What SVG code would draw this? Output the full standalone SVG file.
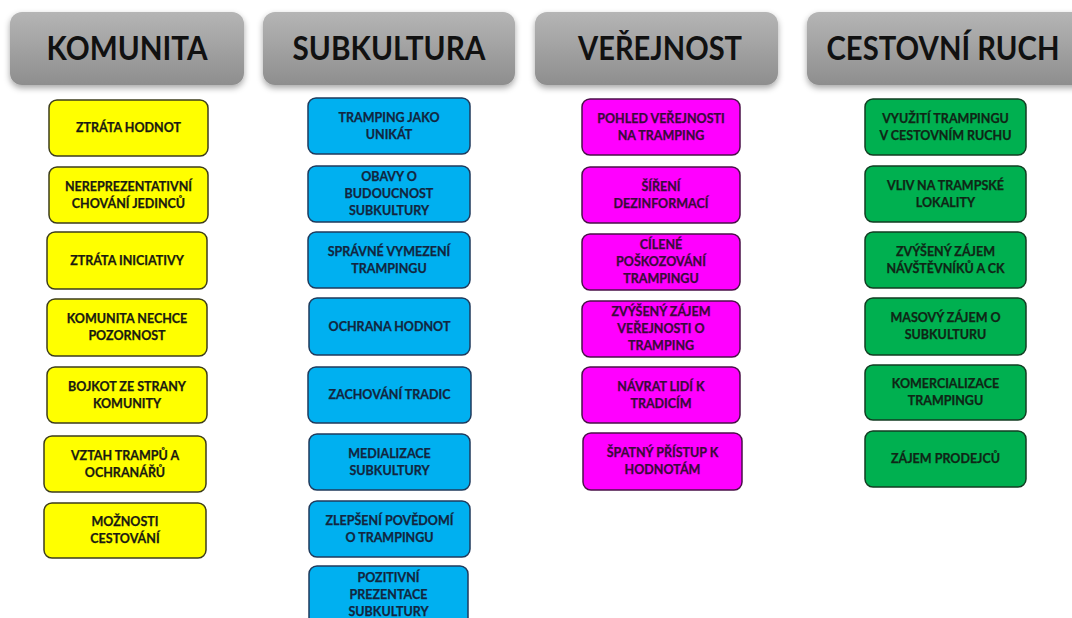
<svg xmlns="http://www.w3.org/2000/svg" width="1072" height="618" viewBox="0 0 1072 618">
<defs>
<linearGradient id="hg" x1="0" y1="0" x2="0" y2="1">
<stop offset="0" stop-color="#b5b5b5"/>
<stop offset="1" stop-color="#8e8e8e"/>
</linearGradient>
<filter id="sh" x="-10%" y="-20%" width="120%" height="150%">
<feDropShadow dx="0" dy="3" stdDeviation="3" flood-color="#000" flood-opacity="0.35"/>
</filter>
</defs>
<style>
.hdr rect{fill:url(#hg);filter:url(#sh)}
.hdr text{font-family:Lato,"Liberation Sans",sans-serif;font-weight:bold;font-size:32px;fill:#111;text-anchor:middle}
.n rect{stroke-width:1.5}
.n text{font-family:Lato,"Liberation Sans",sans-serif;font-weight:bold;font-size:12.5px;text-anchor:middle;stroke-width:0.25}
.y rect{fill:#ffff00;stroke:#3d3d1c}
.y text{fill:#1a1a10;stroke:#1a1a10}
.b rect{fill:#00b0f0;stroke:#1f3a5c}
.b text{fill:#12263f;stroke:#12263f}
.m rect{fill:#ff00ff;stroke:#4a1048}
.m text{fill:#3a0a3a;stroke:#3a0a3a}
.g rect{fill:#00b050;stroke:#123d22}
.g text{fill:#0f2616;stroke:#0f2616}
</style>
<rect width="1072" height="618" fill="#ffffff"/>
<g id="h-komunita" class="hdr"><rect x="10" y="12" width="234" height="73" rx="12"/><text x="127" y="60" textLength="161" lengthAdjust="spacingAndGlyphs">KOMUNITA</text></g>
<g id="h-subkultura" class="hdr"><rect x="263" y="12" width="252" height="73" rx="12"/><text x="389" y="60" textLength="193" lengthAdjust="spacingAndGlyphs">SUBKULTURA</text></g>
<g id="h-verejnost" class="hdr"><rect x="535" y="12" width="243" height="73" rx="12"/><text x="660" y="60" textLength="164" lengthAdjust="spacingAndGlyphs">VEŘEJNOST</text></g>
<g id="h-cestovni" class="hdr"><rect x="807" y="12" width="280" height="73" rx="12"/><text x="943" y="60" textLength="233" lengthAdjust="spacingAndGlyphs">CESTOVNÍ RUCH</text></g>
<g id="connectors"></g>
<g id="k1" class="n y"><rect x="49" y="100" width="159" height="56" rx="8"/><text x="128.5" y="132">ZTRÁTA HODNOT</text></g>
<g id="k2" class="n y"><rect x="49" y="167" width="159" height="56" rx="8"/><text x="128.5" y="190.5">NEREPREZENTATIVNÍ</text><text x="128.5" y="207.5">CHOVÁNÍ JEDINCŮ</text></g>
<g id="k3" class="n y"><rect x="47" y="232" width="160" height="57" rx="8"/><text x="127" y="264.5">ZTRÁTA INICIATIVY</text></g>
<g id="k4" class="n y"><rect x="47" y="299" width="160" height="57" rx="8"/><text x="127" y="323">KOMUNITA NECHCE</text><text x="127" y="340">POZORNOST</text></g>
<g id="k5" class="n y"><rect x="47" y="367" width="160" height="56" rx="8"/><text x="127" y="390.5">BOJKOT ZE STRANY</text><text x="127" y="407.5">KOMUNITY</text></g>
<g id="k6" class="n y"><rect x="44" y="436" width="162" height="56" rx="8"/><text x="125" y="459.5">VZTAH TRAMPŮ A</text><text x="125" y="476.5">OCHRANÁŘŮ</text></g>
<g id="k7" class="n y"><rect x="44" y="503" width="162" height="55" rx="8"/><text x="125" y="526">MOŽNOSTI</text><text x="125" y="543">CESTOVÁNÍ</text></g>
<g id="s1" class="n b"><rect x="308" y="98" width="162" height="56" rx="8"/><text x="389" y="122">TRAMPING JAKO</text><text x="389" y="139">UNIKÁT</text></g>
<g id="s2" class="n b"><rect x="308" y="166" width="162" height="56" rx="8"/><text x="389" y="181">OBAVY O</text><text x="389" y="198">BUDOUCNOST</text><text x="389" y="215">SUBKULTURY</text></g>
<g id="s3" class="n b"><rect x="308" y="232" width="162" height="56" rx="8"/><text x="389" y="256">SPRÁVNÉ VYMEZENÍ</text><text x="389" y="273">TRAMPINGU</text></g>
<g id="s4" class="n b"><rect x="309" y="298" width="161" height="57" rx="8"/><text x="389.5" y="330.5">OCHRANA HODNOT</text></g>
<g id="s5" class="n b"><rect x="308" y="367" width="163" height="56" rx="8"/><text x="389.5" y="399">ZACHOVÁNÍ TRADIC</text></g>
<g id="s6" class="n b"><rect x="309" y="434" width="161" height="56" rx="8"/><text x="389.5" y="457.5">MEDIALIZACE</text><text x="389.5" y="474.5">SUBKULTURY</text></g>
<g id="s7" class="n b"><rect x="309" y="501" width="161" height="56" rx="8"/><text x="389.5" y="524.5">ZLEPŠENÍ POVĚDOMÍ</text><text x="389.5" y="541.5">O TRAMPINGU</text></g>
<g id="s8" class="n b"><rect x="309" y="566" width="159" height="60" rx="8"/><text x="388.5" y="582">POZITIVNÍ</text><text x="388.5" y="599">PREZENTACE</text><text x="388.5" y="616">SUBKULTURY</text></g>
<g id="v1" class="n m"><rect x="582" y="99" width="158" height="56" rx="8"/><text x="661" y="122.5">POHLED VEŘEJNOSTI</text><text x="661" y="139.5">NA TRAMPING</text></g>
<g id="v2" class="n m"><rect x="582" y="167" width="158" height="56" rx="8"/><text x="661" y="190.5">ŠÍŘENÍ</text><text x="661" y="207.5">DEZINFORMACÍ</text></g>
<g id="v3" class="n m"><rect x="582" y="234" width="158" height="56" rx="8"/><text x="661" y="249">CÍLENÉ</text><text x="661" y="266">POŠKOZOVÁNÍ</text><text x="661" y="283">TRAMPINGU</text></g>
<g id="v4" class="n m"><rect x="582" y="301" width="158" height="56" rx="8"/><text x="661" y="316">ZVÝŠENÝ ZÁJEM</text><text x="661" y="333">VEŘEJNOSTI O</text><text x="661" y="350">TRAMPING</text></g>
<g id="v5" class="n m"><rect x="582" y="367" width="158" height="56" rx="8"/><text x="661" y="390.5">NÁVRAT LIDÍ K</text><text x="661" y="407.5">TRADICÍM</text></g>
<g id="v6" class="n m"><rect x="583" y="433" width="159" height="57" rx="8"/><text x="662.5" y="457">ŠPATNÝ PŘÍSTUP K</text><text x="662.5" y="474">HODNOTÁM</text></g>
<g id="c1" class="n g"><rect x="865" y="99" width="161" height="56" rx="8"/><text x="945.5" y="122.5">VYUŽITÍ TRAMPINGU</text><text x="945.5" y="139.5">V CESTOVNÍM RUCHU</text></g>
<g id="c2" class="n g"><rect x="865" y="166" width="161" height="56" rx="8"/><text x="945.5" y="189.5">VLIV NA TRAMPSKÉ</text><text x="945.5" y="206.5">LOKALITY</text></g>
<g id="c3" class="n g"><rect x="865" y="232" width="161" height="56" rx="8"/><text x="945.5" y="255.5">ZVÝŠENÝ ZÁJEM</text><text x="945.5" y="272.5">NÁVŠTĚVNÍKŮ A CK</text></g>
<g id="c4" class="n g"><rect x="865" y="298" width="161" height="57" rx="8"/><text x="945.5" y="322">MASOVÝ ZÁJEM O</text><text x="945.5" y="339">SUBKULTURU</text></g>
<g id="c5" class="n g"><rect x="865" y="365" width="161" height="55" rx="8"/><text x="945.5" y="388">KOMERCIALIZACE</text><text x="945.5" y="405">TRAMPINGU</text></g>
<g id="c6" class="n g"><rect x="865" y="431" width="161" height="56" rx="8"/><text x="945.5" y="463">ZÁJEM PRODEJCŮ</text></g>
</svg>
